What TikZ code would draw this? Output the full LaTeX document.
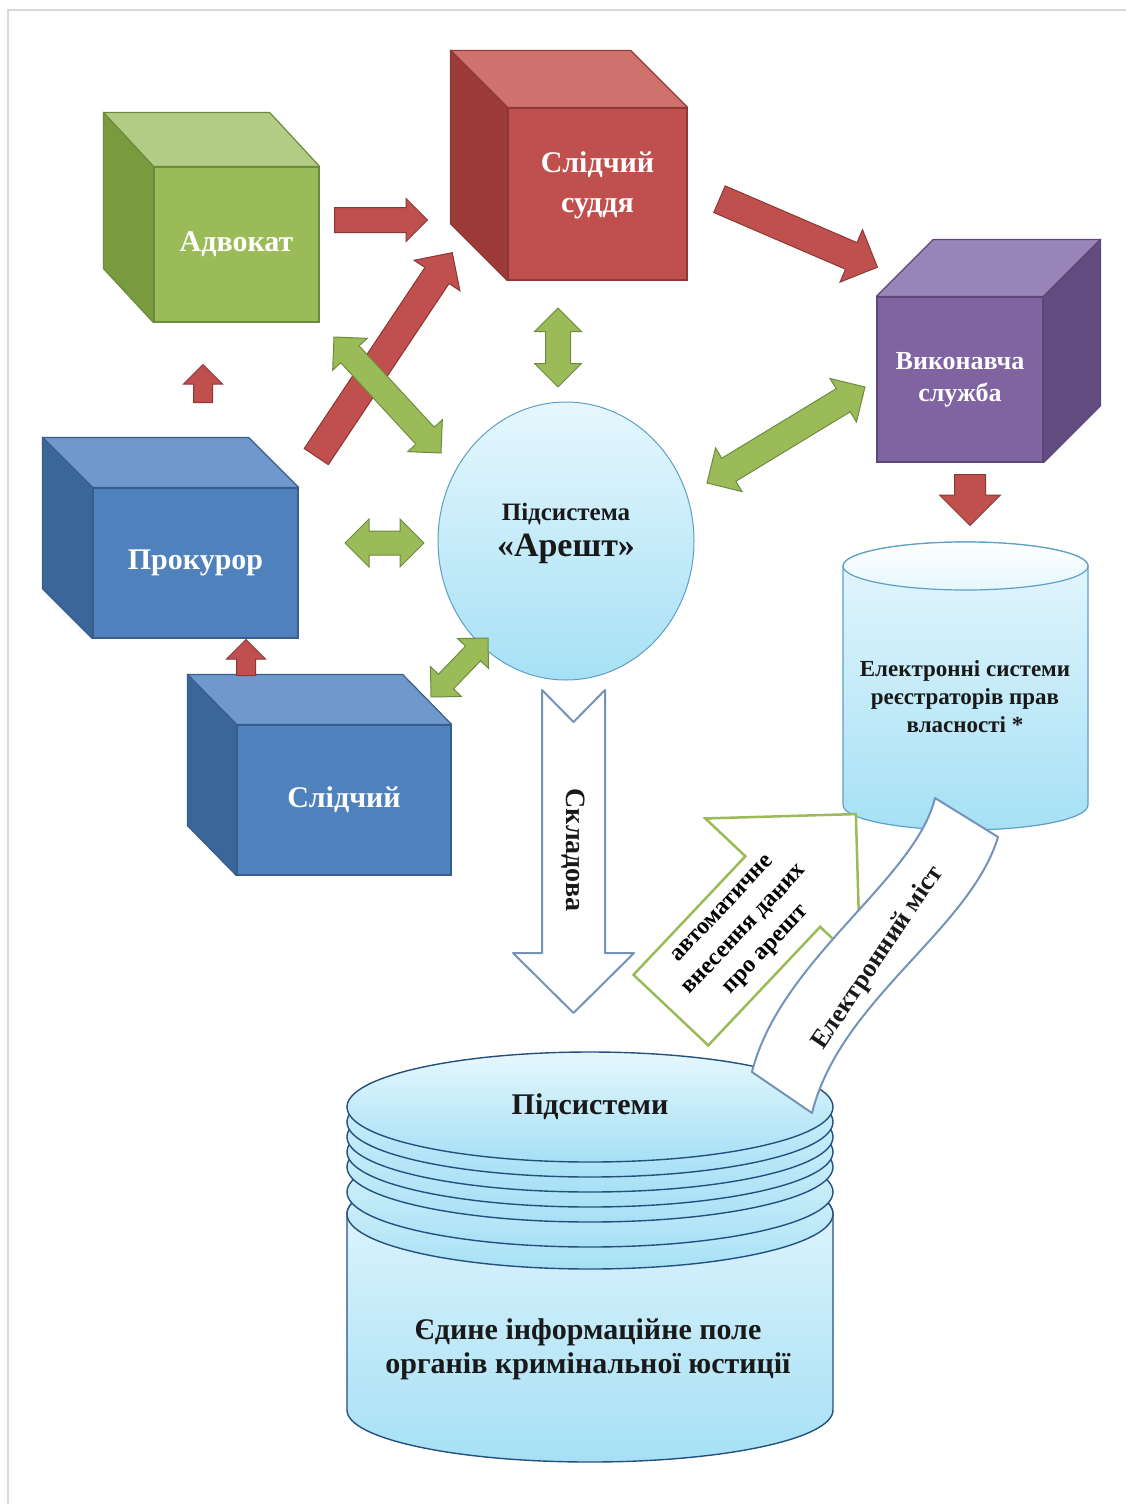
\documentclass[tikz,border=0pt]{standalone}
\usepackage{fontspec}
\setmainfont{Liberation Serif}
\usetikzlibrary{shapes.arrows, shapes.geometric, positioning, calc}

\definecolor{grFront}{HTML}{9BBB59}
\definecolor{grTop}{HTML}{B3CC85}
\definecolor{grSide}{HTML}{7A9A3E}
\definecolor{grLine}{HTML}{6E8B3D}
\definecolor{rdFront}{HTML}{C0504D}
\definecolor{rdTop}{HTML}{D0716E}
\definecolor{rdSide}{HTML}{9C3B38}
\definecolor{rdLine}{HTML}{8C3836}
\definecolor{vlFront}{HTML}{8064A2}
\definecolor{vlTop}{HTML}{9A85B8}
\definecolor{vlSide}{HTML}{624C80}
\definecolor{vlLine}{HTML}{5C4776}
\definecolor{blFront}{HTML}{4F81BD}
\definecolor{blTop}{HTML}{6F98CC}
\definecolor{blSide}{HTML}{3B6699}
\definecolor{blLine}{HTML}{385D8A}
\definecolor{skyLight}{HTML}{E6F7FD}
\definecolor{skyDark}{HTML}{A6E0F5}
\definecolor{skyLine}{HTML}{5E9FC6}
\definecolor{dbLine}{HTML}{24507F}
\definecolor{steel}{HTML}{7393B8}
\definecolor{frameGray}{HTML}{D9D9D9}

\tikzset{
    cube/.style = {rectangle, draw, line width=1.2pt, text=white, align=center, inner sep=0pt, font=\bfseries\fontsize{30}{40}\selectfont},
    redarrow/.style 2 args = {single arrow, draw=rdLine, fill=rdFront, line width=1pt, inner xsep=0pt, inner ysep=#2/2, single arrow head extend=#1/2-#2/2, sloped, allow upside down, pos=0, anchor=tail},
    greenarrow/.style 2 args = {double arrow, draw=grLine, fill=grFront, line width=1pt, inner xsep=0pt, inner ysep=#2/2, double arrow head extend=#1/2-#2/2, sloped, allow upside down},
    autoarrow/.style = {single arrow, draw=grFront, fill=white, line width=2.5pt, inner xsep=-14pt, inner ysep=10pt, minimum width=213pt, single arrow head extend=53pt, sloped, allow upside down, pos=0, anchor=tail, align=center, font=\bfseries\fontsize{24}{30}\selectfont},
    store/.style = {top color=skyLight, bottom color=skyDark, draw=skyLine, line width=1.2pt},
    disk/.style = {top color=skyLight, bottom color=skyDark, draw=dbLine, line width=1.4pt},
    label/.style = {align=center, text=black!90, font=\bfseries}
}

% front face is the node, top and side faces are drawn from its corners
\newcommand{\cubefaces}[7]{%
    \filldraw[draw=#7, fill=#5, line width=1.2pt, line join=round] (#1.north west) -- (#1.north east) -- ++(#3,#4) -- ($(#1.north west)+(#3,#4)$) -- cycle;
    \filldraw[draw=#7, fill=#6, line width=1.2pt, line join=round] (#1.north #2) -- (#1.south #2) -- ++(#3,#4) -- ($(#1.north #2)+(#3,#4)$) -- cycle;
}

% block arrow between two named points
\newcommand{\flow}[4][]{%
    \path let \p1 = ($(#4)-(#3)$), \n1 = {veclen(\x1,\y1)} in
        (#3) -- node[#2, minimum height={\n1}] {#1} (#4);
}

\begin{document}
\begin{tikzpicture}[x=1pt, y=-1pt]
        \useasboundingbox (0,0) rectangle (1126,1504);
        \draw[frameGray, line width=1.5pt] (8,1504) -- (8,10) -- (1126,10);

        % Unified field
        \path[disk] (347,1214) -- (347,1410) arc[start angle=180, end angle=0, x radius=243, y radius=52]
            -- (833,1214) arc[start angle=0, end angle=-180, x radius=243, y radius=55] -- cycle;
        \foreach \yy in {1214,1192,1167,1152,1137,1122,1107}
            \path[disk] (590,\yy) ellipse[x radius=243, y radius=55];
        \node[label, font=\bfseries\fontsize{30}{36}\selectfont] (subs) at (590,1107) {Підсистеми};
        \node[label, font=\bfseries\fontsize{30}{34}\selectfont] (field) at (588,1349) {Єдине інформаційне поле\\органів кримінальної юстиції};

        % Registrars
        \path[store] (843,566) -- (843,805) arc[start angle=180, end angle=0, x radius=122.5, y radius=25]
            -- (1088,566) arc[start angle=0, end angle=-180, x radius=122.5, y radius=24] -- cycle;
        \path[store, top color=white, bottom color=skyLight] (965.5,566) ellipse[x radius=122.5, y radius=24];
        \node[label, font=\bfseries\fontsize{23}{28}\selectfont] (reestr) at (965,697) {Електронні системи\\реєстраторів прав\\власності *};

        % Arrest subsystem
        \node[ellipse, store, line width=1pt, minimum width=256pt, minimum height=278pt] (arest) at (566,541) {};
        \node[label, above=-26pt of arest.center, font=\bfseries\fontsize{25}{30}\selectfont] (arestName)
            {Підсистема\\[6pt]\fontsize{34}{38}\selectfont «Арешт»};

        % Cubes
        \node[cube, fill=grFront, draw=grLine, minimum width=165pt, minimum height=155pt] (advokat) at (236.5,244.5) {Адвокат};
        \cubefaces{advokat}{west}{-50}{-54}{grTop}{grSide}{grLine}
        \node[cube, fill=rdFront, draw=rdLine, minimum width=179pt, minimum height=172pt] (suddia) at (597.5,194) {Слідчий\\суддя\\[-16pt]};
        \cubefaces{suddia}{west}{-57}{-57}{rdTop}{rdSide}{rdLine}
        \node[cube, fill=vlFront, draw=vlLine, minimum width=166pt, minimum height=165pt, font=\bfseries\fontsize{26}{32}\selectfont] (vykon) at (960,379.5) {Виконавча\\служба};
        \cubefaces{vykon}{east}{57}{-57}{vlTop}{vlSide}{vlLine}
        \node[cube, fill=blFront, draw=blLine, minimum width=205pt, minimum height=150pt] (prokuror) at (195.5,563) {Прокурор};
        \cubefaces{prokuror}{west}{-50}{-50}{blTop}{blSide}{blLine}
        \node[cube, fill=blFront, draw=blLine, minimum width=214pt, minimum height=150pt] (slidchyi) at (344,800) {Слідчий};
        \cubefaces{slidchyi}{west}{-49}{-50}{blTop}{blSide}{blLine}

        % Arrow ends
        \coordinate (advOut) at (334,220);   \coordinate (sudIn1) at (427,220);
        \coordinate (proOut) at (316,457);   \coordinate (sudIn2) at (452,253);
        \coordinate (sudOut) at (719,199);   \coordinate (vykIn) at (877,267);
        \coordinate (proUp) at (203,403);    \coordinate (advIn) at (203,365);
        \coordinate (sldUp) at (246,676);    \coordinate (proIn) at (246,640);
        \coordinate (vykOut) at (970,474);   \coordinate (reeIn) at (970,525);
        \coordinate (sudLow) at (558,308);   \coordinate (areTop) at (558,387);
        \coordinate (advLow) at (334,337);   \coordinate (areNW) at (441,453);
        \coordinate (areNE) at (707,483);    \coordinate (vykLeft) at (865,387);
        \coordinate (proRight) at (345,543); \coordinate (areW) at (424,543);
        \coordinate (sldNE) at (431,697);    \coordinate (areSW) at (488,638);
        \coordinate (autoFrom) at (670,1011); \coordinate (autoTo) at (855,815);

        % Red arrows
        \flow{redarrow={42pt}{24pt}}{advOut}{sudIn1}
        \flow{redarrow={54pt}{28pt}}{proOut}{sudIn2}
        \flow{redarrow={56pt}{28pt}}{sudOut}{vykIn}
        \flow{redarrow={38pt}{18pt}}{proUp}{advIn}
        \flow{redarrow={38pt}{18pt}}{sldUp}{proIn}
        \flow{redarrow={60pt}{30pt}}{vykOut}{reeIn}

        % Green two-way arrows
        \flow{greenarrow={46pt}{24pt}}{sudLow}{areTop}
        \flow{greenarrow={46pt}{24pt}}{advLow}{areNW}
        \flow{greenarrow={50pt}{26pt}}{areNE}{vykLeft}
        \flow{greenarrow={47pt}{23pt}}{proRight}{areW}
        \flow{greenarrow={42pt}{20pt}}{sldNE}{areSW}

        % Component arrow
        \draw[steel, fill=white, line width=2pt, line join=round, shift={(573.5,690)}]
            (-31.5,0) -- (0,32) -- (31.5,0) -- (31.5,263) -- (60.5,263) -- (0,323) -- (-60.5,263) -- (-31.5,263) -- cycle;
        \node[label, rotate=-90, font=\bfseries\fontsize{28}{32}\selectfont] (skladova) at (573.5,850) {Складова};

        % Automatic entry
        \flow[автоматичне\\внесення даних\\про арешт]{autoarrow}{autoFrom}{autoTo}

        % Electronic bridge
        \draw[steel, fill=white, line width=2pt, line join=round] (935,798) .. controls (915,880) and (780,960) .. (752,1072)
            -- (812,1113) .. controls (840,1000) and (970,930) .. (998,837) -- cycle;
        \node[label, rotate=56, font=\bfseries\fontsize{26}{32}\selectfont] (mist) at (878,958) {Електронний міст};

    \end{tikzpicture}
\end{document}
